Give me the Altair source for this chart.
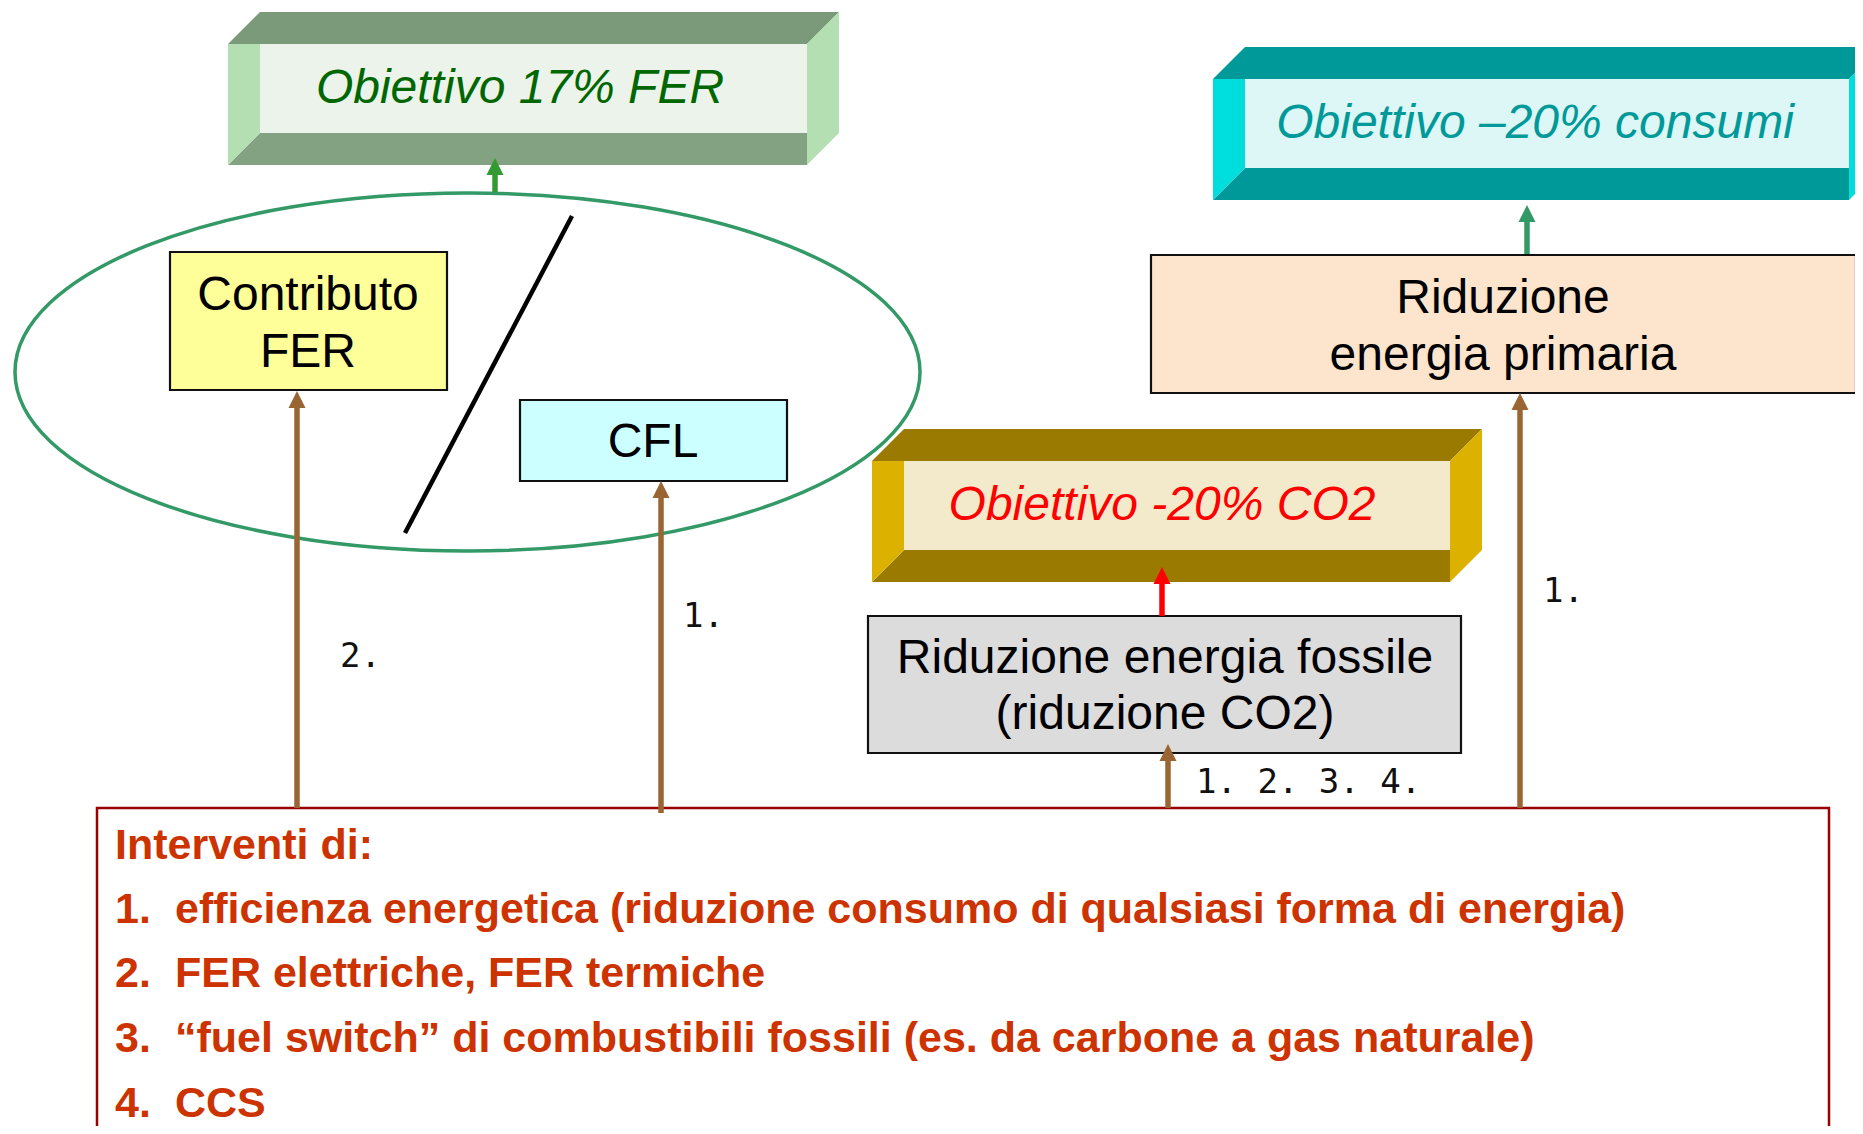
import altair as alt
import pandas as pd

# ---------------- content (texts, colours) ----------------
goal_titles = ["Obiettivo 17% FER", "Obiettivo –20% consumi", "Obiettivo -20% CO2"]
goal_text_colors = ["#006600", "#009999", "#FF0000"]
box_lines = [["Contributo", "FER"], ["CFL"], ["Riduzione", "energia primaria"],
             ["Riduzione energia fossile", "(riduzione CO2)"]]
box_fills = ["#FFFF99", "#CCFFFF", "#FDE4CC", "#DCDCDC"]
arrow_labels = ["2.", "1.", "1.", "1. 2. 3. 4."]
legend_header = "Interventi di:"
legend_numbers = ["1.", "2.", "3.", "4."]
legend_items = [
    "efficienza energetica (riduzione consumo di qualsiasi forma di energia)",
    "FER elettriche, FER termiche",
    "“fuel switch” di combustibili fossili (es. da carbone a gas naturale)",
    "CCS",
]

# ---------------- layout (diagram coordinates) ----------------
W, H = 1847, 1118
X0, Y0 = 8, 8
xs = alt.Scale(domain=[X0, X0 + W], nice=False, zero=False)
ys = alt.Scale(domain=[Y0, Y0 + H], reverse=True, nice=False, zero=False)

bevel_boxes = [
    dict(L=228, IR=807, T=12, IB=133, d=32, top="#7A9A7A", bot="#82A282",
         side="#B3DFB3", face="#EBF3EB", cx=520, base=103),
    dict(L=1213, IR=1849, T=47, IB=168, d=32, top="#009999", bot="#009999",
         side="#00DDDD", face="#DDF6F6", cx=1535, base=138),
    dict(L=872, IR=1450, T=429, IB=550, d=32, top="#9A7B00", bot="#9A7B00",
         side="#DDB100", face="#F3EACC", cx=1162, base=520),
]
flat_boxes = [
    dict(x=170, x2=447, y=252, y2=390, cx=308, bases=[310, 367]),
    dict(x=520, x2=787, y=400, y2=481, cx=653, bases=[457]),
    dict(x=1151, x2=1856, y=255, y2=393, cx=1503, bases=[313, 370]),
    dict(x=868, x2=1461, y=616, y2=753, cx=1165, bases=[673, 729]),
]
arrows = [
    dict(x=495, y0=192, tip=158, color="#339933"),
    dict(x=1527, y0=254, tip=205, color="#339966"),
    dict(x=1162, y0=616, tip=567, color="#FF0000"),
    dict(x=297, y0=808, tip=391, color="#996633"),
    dict(x=661, y0=813, tip=481, color="#996633"),
    dict(x=1168, y0=808, tip=744, color="#996633"),
    dict(x=1520, y0=808, tip=393, color="#996633"),
]
label_pos = [(340, 667), (683, 627), (1543, 602), (1196, 793)]
ellipse = dict(cx=467.5, cy=372, rx=452.5, ry=179)
slash = dict(x=572, y=216, x2=405, y2=533)
panel = dict(x=97, x2=1829, y=808, y2=1200)
legend_x_num, legend_x_text = 115, 175
legend_header_base = 859
legend_bases = [923, 987, 1052, 1117]

X = lambda f: alt.X(f, scale=xs, axis=None)
Y = lambda f: alt.Y(f, scale=ys, axis=None)

# ---------------- bevel (3D) boxes ----------------
hrows, vrows, frows = [], [], []
for i, b in enumerate(bevel_boxes):
    L, IR, T, IB, d = b["L"], b["IR"], b["T"], b["IB"], b["d"]
    IL, R, FT, B = L + d, IR + d, T + d, IB + d
    hrows += [dict(face=f"t{i}", y=T, x=IL, x2=R, fill=b["top"]),
              dict(face=f"t{i}", y=FT, x=L, x2=IR, fill=b["top"]),
              dict(face=f"b{i}", y=IB, x=IL, x2=IR, fill=b["bot"]),
              dict(face=f"b{i}", y=B, x=L, x2=IR, fill=b["bot"])]
    vrows += [dict(face=f"l{i}", x=L, y=FT, y2=B, fill=b["side"]),
              dict(face=f"l{i}", x=IL, y=FT, y2=IB, fill=b["side"]),
              dict(face=f"r{i}", x=IR, y=FT, y2=B, fill=b["side"]),
              dict(face=f"r{i}", x=R, y=T, y2=IB, fill=b["side"])]
    frows.append(dict(x=IL, x2=IR, y=FT, y2=IB, fill=b["face"]))

h_faces = alt.Chart(pd.DataFrame(hrows)).mark_area(orient="horizontal", clip=True).encode(
    y=Y("y:Q"), x=alt.X("x:Q", scale=xs, axis=None, stack=None), x2="x2:Q",
    detail="face:N", color=alt.Color("fill:N", scale=None))
v_faces = alt.Chart(pd.DataFrame(vrows)).mark_area(orient="vertical", clip=True).encode(
    x=X("x:Q"), y=alt.Y("y:Q", scale=ys, axis=None, stack=None), y2="y2:Q",
    detail="face:N", color=alt.Color("fill:N", scale=None))
inner_faces = alt.Chart(pd.DataFrame(frows)).mark_rect(clip=True).encode(
    x=X("x:Q"), x2="x2:Q", y=Y("y:Q"), y2="y2:Q", color=alt.Color("fill:N", scale=None))

goal_df = pd.DataFrame([dict(x=b["cx"], y=b["base"], text=t, c=c)
                        for b, t, c in zip(bevel_boxes, goal_titles, goal_text_colors)])
goal_text = alt.Chart(goal_df).mark_text(
    font="Liberation Sans", fontSize=48, fontStyle="italic", align="center",
    baseline="alphabetic").encode(x=X("x:Q"), y=Y("y:Q"), text="text:N",
                                  color=alt.Color("c:N", scale=None))

# ---------------- flat boxes ----------------
fb_df = pd.DataFrame([dict(x=b["x"], x2=b["x2"], y=b["y"], y2=b["y2"], fill=f)
                      for b, f in zip(flat_boxes, box_fills)])
flat = alt.Chart(fb_df).mark_rect(stroke="#111111", strokeWidth=2.2, clip=True).encode(
    x=X("x:Q"), x2="x2:Q", y=Y("y:Q"), y2="y2:Q", color=alt.Color("fill:N", scale=None))

bt_rows = []
for b, lines in zip(flat_boxes, box_lines):
    for yb, line in zip(b["bases"], lines):
        bt_rows.append(dict(x=b["cx"], y=yb, text=line))
box_text = alt.Chart(pd.DataFrame(bt_rows)).mark_text(
    font="Liberation Sans", fontSize=48, color="#000000", align="center",
    baseline="alphabetic").encode(x=X("x:Q"), y=Y("y:Q"), text="text:N")

# ---------------- ellipse and slash ----------------
k = 0.5523
r = ellipse["ry"] / ellipse["rx"]
kr = round(k * r, 4)
rr = round(r, 4)
ell_path = (f"M -1 0 C -1 {-kr} {-k} {-rr} 0 {-rr} C {k} {-rr} 1 {-kr} 1 0 "
            f"C 1 {kr} {k} {rr} 0 {rr} C {-k} {rr} -1 {kr} -1 0 Z")
ell = alt.Chart(pd.DataFrame([ellipse])).mark_point(
    shape=ell_path, size=(2 * ellipse["rx"]) ** 2, filled=False, strokeWidth=3.5,
    opacity=1, color="#339966").encode(x=X("cx:Q"), y=Y("cy:Q"))

slash_line = alt.Chart(pd.DataFrame([slash])).mark_rule(
    color="#000000", strokeWidth=4.5).encode(x=X("x:Q"), y=Y("y:Q"), x2="x2:Q", y2="y2:Q")

# ---------------- bottom panel ----------------
panel_rect = alt.Chart(pd.DataFrame([panel])).mark_rect(
    fill="#FFFFFF", stroke="#990000", strokeWidth=2.5, clip=True).encode(
    x=X("x:Q"), x2="x2:Q", y=Y("y:Q"), y2="y2:Q")

# ---------------- arrows ----------------
ar_df = pd.DataFrame(arrows)
ar_df["head_base"] = ar_df["tip"] + 12
shafts = alt.Chart(ar_df).mark_rule(strokeWidth=5.5).encode(
    x=X("x:Q"), y=Y("y0:Q"), y2="head_base:Q", color=alt.Color("color:N", scale=None))
heads = alt.Chart(ar_df).mark_point(
    shape="M 0 0 L -1 2 L 1 2 Z", size=289, filled=True, opacity=1).encode(
    x=X("x:Q"), y=Y("tip:Q"), color=alt.Color("color:N", scale=None))

lab_df = pd.DataFrame([dict(x=p[0], y=p[1], text=t) for p, t in zip(label_pos, arrow_labels)])
labels = alt.Chart(lab_df).mark_text(
    font="DejaVu Sans Mono", fontSize=34, color="#111111", align="left",
    baseline="alphabetic").encode(x=X("x:Q"), y=Y("y:Q"), text="text:N")

# ---------------- legend text ----------------
leg_rows = [dict(x=legend_x_num, y=legend_header_base, text=legend_header)]
for n, t, yb in zip(legend_numbers, legend_items, legend_bases):
    leg_rows.append(dict(x=legend_x_num, y=yb, text=n))
    leg_rows.append(dict(x=legend_x_text, y=yb, text=t))
legend = alt.Chart(pd.DataFrame(leg_rows)).mark_text(
    font="Liberation Sans", fontSize=43, fontWeight="bold", color="#CC3300",
    align="left", baseline="alphabetic").encode(x=X("x:Q"), y=Y("y:Q"), text="text:N")

chart = alt.layer(
    ell, slash_line, flat, box_text,
    h_faces, v_faces, inner_faces, goal_text,
    panel_rect, shafts, heads, labels, legend,
).properties(
    width=W, height=H, padding=0, autosize=alt.AutoSizeParams(type="none"),
    background="#FFFFFF",
).configure_view(strokeWidth=0)

chart.save("out.html", embed_options={"renderer": "svg", "actions": False})
